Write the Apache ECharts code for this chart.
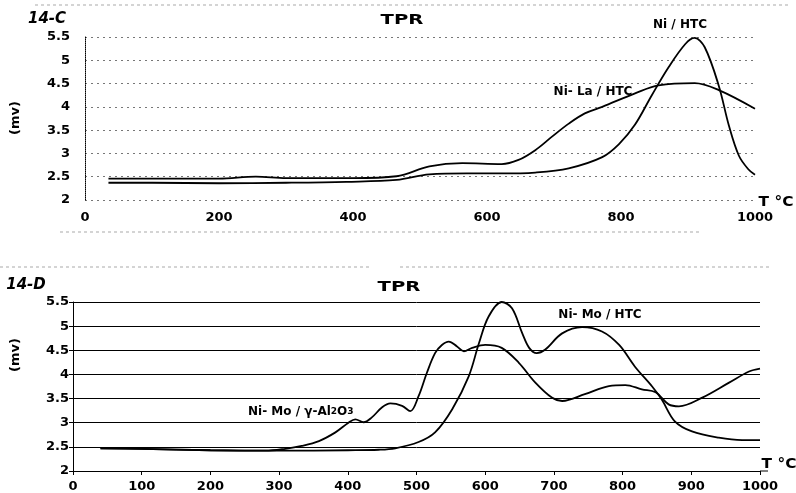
<!DOCTYPE html>
<html><head><meta charset="utf-8">
<style>html,body{margin:0;padding:0;background:#fff}#c{width:796px;height:493px}</style>
<script src="https://cdn.jsdelivr.net/npm/echarts@6/dist/echarts.min.js"></script>
</head><body><div id="c"></div>
<script>
// ---- Data (temperature °C, signal mV) ----
const yTicks = ['2','2.5','3','3.5','4','4.5','5','5.5'];
const topXTicks = [0,200,400,600,800,1000];
const botXTicks = [0,100,200,300,400,500,600,700,800,900,1000];

const niHtcT = [35,100,200,300,390,465,514,570,620,672,722,772,797,821,846,871,896,910,925,946,961,976,990,1000];
const niHtcV = [2.37,2.37,2.36,2.37,2.39,2.43,2.55,2.57,2.57,2.59,2.68,2.92,3.2,3.62,4.25,4.85,5.35,5.48,5.28,4.45,3.6,2.95,2.66,2.54];

const niLaT = [35,100,200,255,300,400,465,514,563,622,647,672,697,722,746,772,821,856,910,946,1000];
const niLaV = [2.46,2.46,2.46,2.5,2.47,2.47,2.51,2.72,2.79,2.77,2.86,3.07,3.36,3.64,3.86,4.0,4.29,4.46,4.51,4.36,3.96];

const niMoAlT = [40,100,200,280,309,333,358,382,401,411,423,435,450,462,479,491,503,515,527,537,547,559,569,581,600,624,649,673,697,712,745,780,804,828,848,867,882,916,955,984,1000];
const niMoAlV = [2.47,2.46,2.43,2.42,2.46,2.52,2.62,2.8,3.0,3.07,3.01,3.11,3.32,3.4,3.35,3.24,3.55,4.03,4.44,4.61,4.68,4.58,4.48,4.55,4.61,4.55,4.24,3.83,3.52,3.45,3.59,3.76,3.78,3.69,3.63,3.38,3.34,3.52,3.83,4.06,4.12];

const niMoHtcT = [40,100,200,300,400,445,469,503,527,552,576,591,605,624,639,654,664,675,687,712,741,770,795,818,843,857,876,901,940,974,1000];
const niMoHtcV = [2.47,2.46,2.43,2.42,2.43,2.44,2.47,2.6,2.8,3.28,3.96,4.65,5.2,5.5,5.37,4.85,4.55,4.44,4.51,4.85,4.98,4.89,4.61,4.16,3.75,3.48,3.03,2.82,2.69,2.64,2.64];

const seriesNames = ['Ni / HTC','Ni- La / HTC','Ni- Mo / γ-Al2O3','Ni- Mo / HTC'];

const pairs = (t, v) => t.map((x, i) => [x, v[i]]);
const FONT = '"DejaVu Sans", Verdana, sans-serif';

const chart = echarts.init(document.getElementById('c'), null, {renderer: 'canvas'});

function yAxis(idx, top) {
  return {
    gridIndex: idx, type: 'value', min: 2, max: 5.5, interval: 0.5,
    axisLine: {show: true, lineStyle: {color: '#000', width: 1, type: top ? 'dotted' : 'solid'}},
    axisTick: {show: !top, length: 4, lineStyle: {color: '#000'}},
    axisLabel: {color: '#000', fontFamily: FONT, fontWeight: 'bold', fontSize: 13, margin: top ? 15 : 4,
      formatter: v => yTicks[Math.round((v - 2) / 0.5)]},
    splitLine: {show: true, lineStyle: top ? {color: '#777', type: [2, 4], width: 1} : {color: '#000', width: 1}}
  };
}
function xAxis(idx, top) {
  const ticks = top ? topXTicks : botXTicks;
  return {
    gridIndex: idx, type: 'value', min: 0, max: 1000, interval: ticks[1] - ticks[0],
    axisLine: {show: !top, onZero: false, lineStyle: {color: '#000', width: 1}},
    axisTick: {show: !top, length: 4, lineStyle: {color: '#000'}},
    axisLabel: {color: '#000', fontFamily: FONT, fontWeight: 'bold', fontSize: 13, margin: top ? 11 : 9,
      formatter: v => String(ticks[Math.round(v / (ticks[1] - ticks[0]))])},
    splitLine: {show: false}
  };
}
function line(name, t, v, idx) {
  return {
    name, type: 'line', xAxisIndex: idx, yAxisIndex: idx, data: pairs(t, v),
    smooth: 0.35, showSymbol: false, symbol: 'none',
    lineStyle: {color: '#000', width: 1.8}, z: 5
  };
}
function txt(x, y, s, size, weight, extra, sx) {
  return {type: 'text', x, y, scaleX: sx || 1, originX: 0, originY: 0, z: 10,
    style: {text: s, fill: '#000', font: (extra || '') + ' ' + weight + ' ' + size + 'px ' + FONT, textAlign: 'center', textVerticalAlign: 'middle'}};
}
function dash(x1, y1, x2, y2) {
  return {type: 'line', shape: {x1, y1, x2, y2}, style: {stroke: '#aaa', lineWidth: 1, lineDash: [3, 3]}, z: 1};
}

chart.setOption({
  animation: false,
  backgroundColor: '#fff',
  grid: [
    {left: 85, right: 41, top: 37, bottom: 293},
    {left: 73, right: 36, top: 302, bottom: 22}
  ],
  xAxis: [xAxis(0, true), xAxis(1, false)],
  yAxis: [yAxis(0, true), yAxis(1, false)],
  series: [
    line(seriesNames[0], niHtcT, niHtcV, 0),
    line(seriesNames[1], niLaT, niLaV, 0),
    line(seriesNames[2], niMoAlT, niMoAlV, 1),
    line(seriesNames[3], niMoHtcT, niMoHtcV, 1)
  ],
  graphic: [
    dash(35, 5, 790, 5), dash(60, 232, 700, 232), dash(0, 267, 370, 267), dash(400, 267, 770, 267),
    txt(47, 19, '14-C', 15, 'bold', 'italic'),
    txt(26, 285, '14-D', 15, 'bold', 'italic'),
    txt(402, 20, 'TPR', 14, 'bold', '', 1.4),
    txt(399, 287, 'TPR', 14, 'bold', '', 1.4),
    Object.assign(txt(16, 118, '(mv)', 13, 'bold'), {rotation: Math.PI / 2}),
    Object.assign(txt(16, 355, '(mv)', 13, 'bold'), {rotation: Math.PI / 2}),
    txt(776, 202, 'T °C', 14, 'bold', '', 1.1),
    txt(779, 464, 'T °C', 14, 'bold', '', 1.1),
    txt(680, 25, seriesNames[0], 12, 'bold'),
    txt(593, 92, seriesNames[1], 12, 'bold'),
    txt(600, 315, seriesNames[3], 12, 'bold'),
    {type: 'text', x: 248, y: 412, z: 10, style: {
      text: 'Ni- Mo / γ-Al{s|2}O{s|3}', fill: '#000', font: 'bold 12px ' + FONT, textVerticalAlign: 'middle',
      rich: {s: {fontSize: 9, fontWeight: 'bold', fontFamily: FONT, fill: '#000'}}
    }},
    {type: 'line', shape: {x1: 760, y1: 471, x2: 768, y2: 471}, style: {stroke: '#000', lineWidth: 1}, z: 3}
  ]
});
</script></body></html>
